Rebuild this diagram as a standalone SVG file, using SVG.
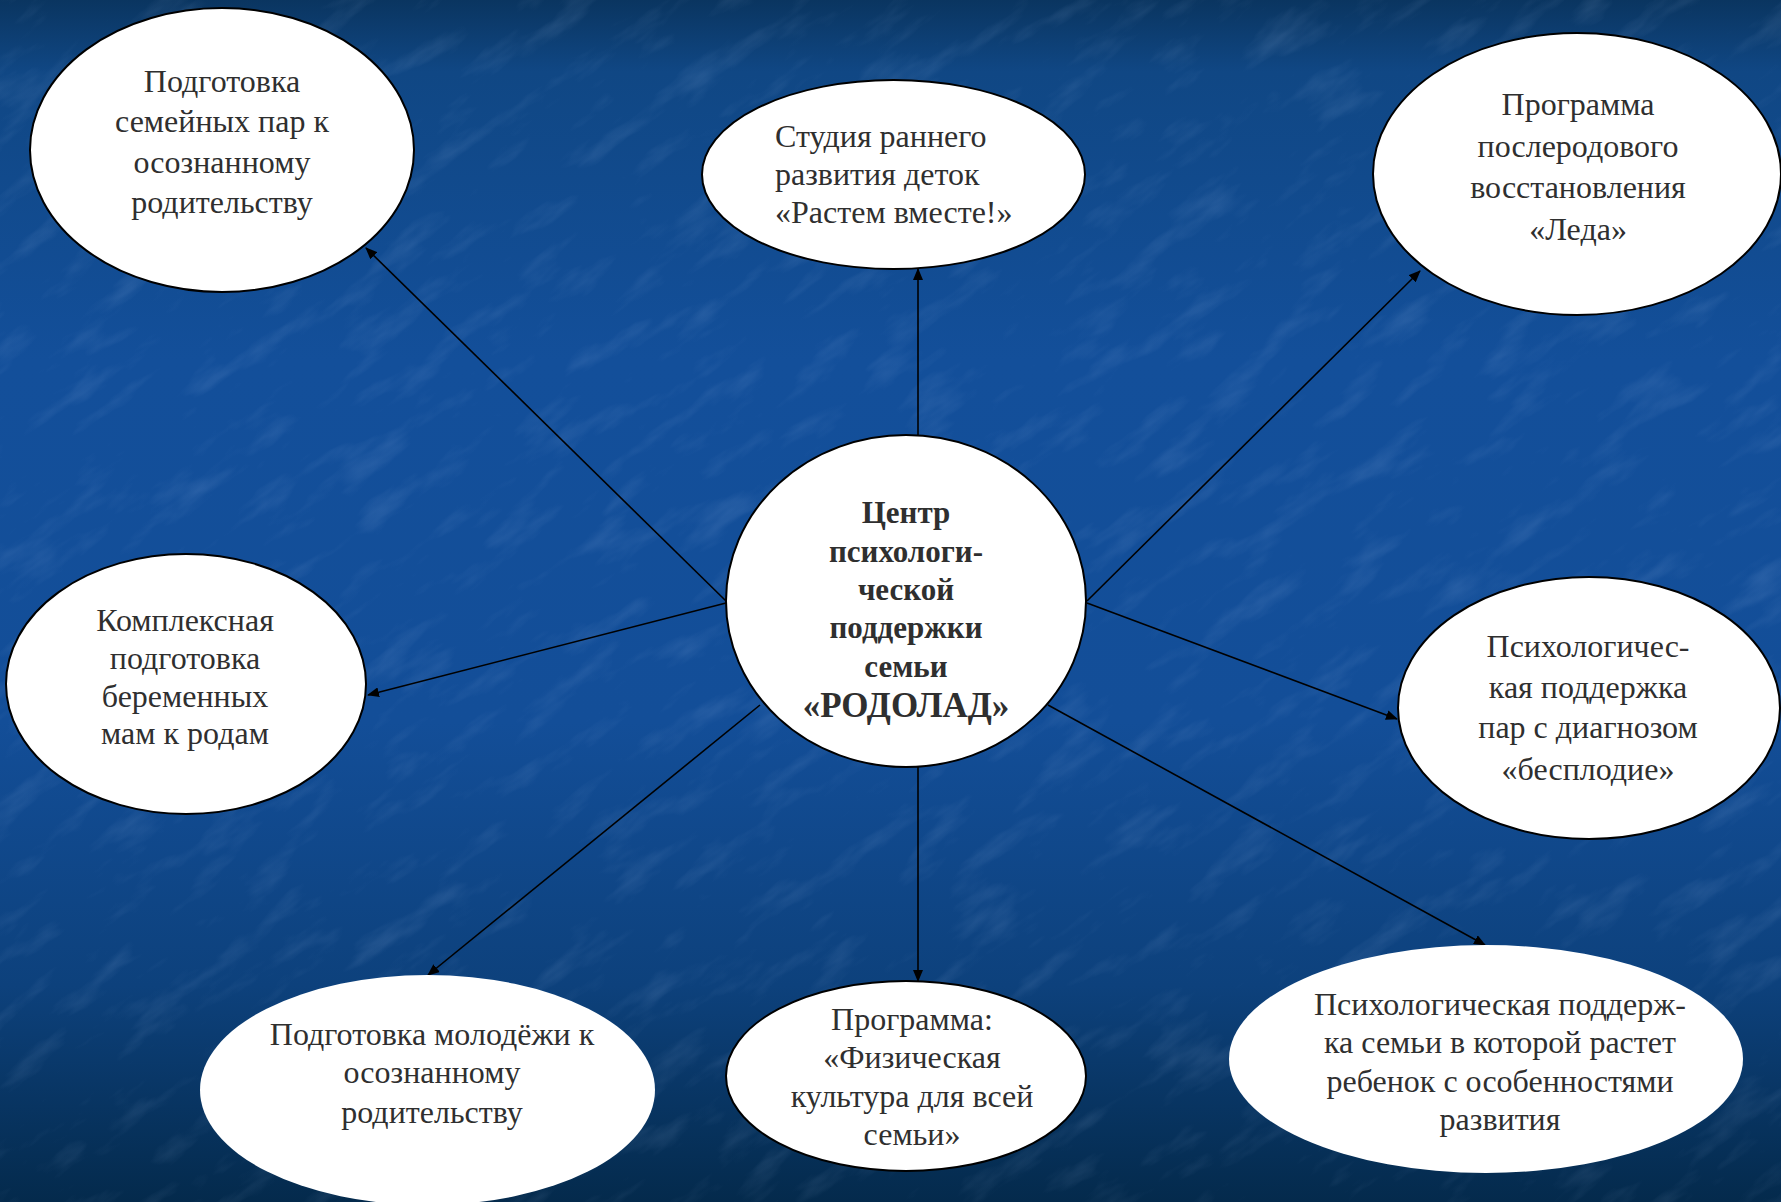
<svg xmlns="http://www.w3.org/2000/svg" width="1781" height="1202" viewBox="0 0 1781 1202">
<defs>
<linearGradient id="bg" x1="0" y1="0" x2="0" y2="1">
<stop offset="0" stop-color="#0a3560"/>
<stop offset="0.06" stop-color="#104784"/>
<stop offset="0.3" stop-color="#134f9a"/>
<stop offset="0.6" stop-color="#134e98"/>
<stop offset="0.82" stop-color="#0d417c"/>
<stop offset="1" stop-color="#042a4c"/>
</linearGradient>
<filter id="tex" x="0" y="0" width="100%" height="100%">
<feTurbulence type="fractalNoise" baseFrequency="0.012 0.04" numOctaves="4" seed="7" result="n"/>
<feColorMatrix in="n" type="matrix" values="0 0 0 0 0.55  0 0 0 0 0.7  0 0 0 0 1  0 0 0 1.5 -0.8"/>
</filter>
<marker id="ah" viewBox="0 0 12 10" refX="11" refY="5" markerWidth="12" markerHeight="10" markerUnits="userSpaceOnUse" orient="auto">
<path d="M0,0 L12,5 L0,10 z" fill="#000"/>
</marker>
<style>
.n{fill:#fff;stroke:#000;stroke-width:2}
.ns{fill:#fff}
.t{font-family:"Liberation Serif","Times New Roman",serif;font-size:32px;fill:#2f2f2f;text-anchor:middle}
.tl{text-anchor:start}
.b{font-weight:bold;font-size:31px}
.bb{font-weight:bold;font-size:35px}
.c{stroke:#000;stroke-width:1.6;fill:none;marker-end:url(#ah)}
</style>
</defs>
<rect width="1781" height="1202" fill="url(#bg)"/>
<g transform="rotate(-35 890 600)" opacity="0.28">
<rect x="-600" y="-600" width="2980" height="2400" filter="url(#tex)"/>
</g>
<rect width="1781" height="1202" fill="url(#bg)" opacity="0.3"/>

<g id="connectors">
<line class="c" x1="726" y1="601" x2="366" y2="248"/>
<line class="c" x1="918" y1="435" x2="918" y2="269"/>
<line class="c" x1="1087" y1="601" x2="1420" y2="271"/>
<line class="c" x1="726" y1="603" x2="368" y2="695"/>
<line class="c" x1="1087" y1="603" x2="1397" y2="719"/>
<line class="c" x1="760" y1="705" x2="428" y2="975"/>
<line class="c" x1="918" y1="767" x2="918" y2="981"/>
<line class="c" x1="1048" y1="705" x2="1485" y2="945"/>
</g>

<g id="center">
<ellipse class="n" cx="906" cy="601" rx="180" ry="166"/>
<text class="t b" x="906" y="523">Центр</text>
<text class="t b" x="906" y="562">психологи-</text>
<text class="t b" x="906" y="600">ческой</text>
<text class="t b" x="906" y="638">поддержки</text>
<text class="t b" x="906" y="677">семьи</text>
<text class="t bb" x="906" y="717">«РОДОЛАД»</text>
</g>

<g id="n1">
<ellipse class="n" cx="222" cy="150" rx="192" ry="142"/>
<text class="t" x="222" y="92">Подготовка</text>
<text class="t" x="222" y="132">семейных пар к</text>
<text class="t" x="222" y="173">осознанному</text>
<text class="t" x="222" y="213">родительству</text>
</g>

<g id="n2">
<ellipse class="n" cx="893.5" cy="174.5" rx="191.5" ry="94.5"/>
<text class="t tl" x="775" y="147">Студия раннего</text>
<text class="t tl" x="775" y="185">развития деток</text>
<text class="t tl" x="775" y="223">«Растем вместе!»</text>
</g>

<g id="n3">
<ellipse class="n" cx="1577" cy="174" rx="204" ry="141"/>
<text class="t" x="1578" y="115">Программа</text>
<text class="t" x="1578" y="157">послеродового</text>
<text class="t" x="1578" y="198">восстановления</text>
<text class="t" x="1578" y="240">«Леда»</text>
</g>

<g id="n4">
<ellipse class="n" cx="186" cy="684" rx="180" ry="130"/>
<text class="t" x="185" y="631">Комплексная</text>
<text class="t" x="185" y="669">подготовка</text>
<text class="t" x="185" y="707">беременных</text>
<text class="t" x="185" y="744">мам к родам</text>
</g>

<g id="n5">
<ellipse class="n" cx="1589" cy="708" rx="191" ry="131"/>
<text class="t" x="1588" y="657">Психологичес-</text>
<text class="t" x="1588" y="698">кая поддержка</text>
<text class="t" x="1588" y="738">пар с диагнозом</text>
<text class="t" x="1588" y="780">«бесплодие»</text>
</g>

<g id="n6">
<ellipse class="ns" cx="427.5" cy="1090" rx="227.5" ry="115"/>
<text class="t" x="432" y="1045">Подготовка молодёжи к</text>
<text class="t" x="432" y="1083">осознанному</text>
<text class="t" x="432" y="1123">родительству</text>
</g>

<g id="n7">
<ellipse class="n" cx="906" cy="1076" rx="180" ry="95"/>
<text class="t" x="912" y="1030">Программа:</text>
<text class="t" x="912" y="1068">«Физическая</text>
<text class="t" x="912" y="1107">культура для всей</text>
<text class="t" x="912" y="1145">семьи»</text>
</g>

<g id="n8">
<ellipse class="ns" cx="1486" cy="1059" rx="257" ry="114"/>
<text class="t" x="1500" y="1015">Психологическая поддерж-</text>
<text class="t" x="1500" y="1053">ка семьи в которой растет</text>
<text class="t" x="1500" y="1092">ребенок с особенностями</text>
<text class="t" x="1500" y="1130">развития</text>
</g>
</svg>
